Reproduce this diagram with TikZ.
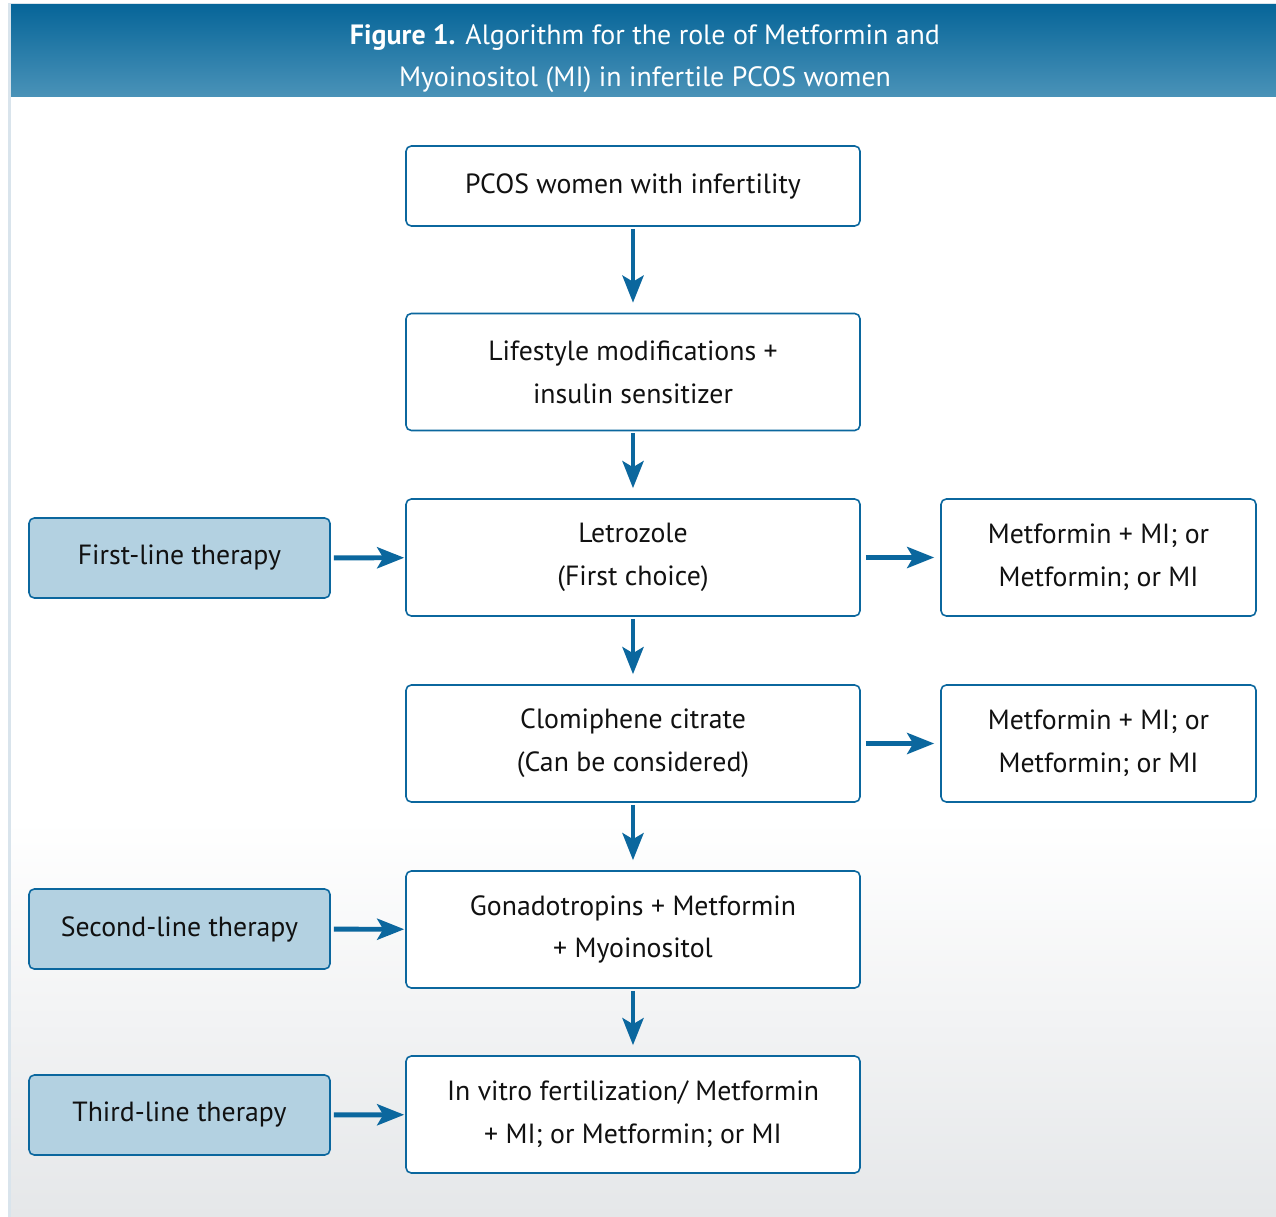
\documentclass[tikz,border=0pt]{standalone}
\usepackage{fontspec}
\setmainfont{PT Sans}
\usetikzlibrary{arrows.meta,positioning,calc}
\definecolor{ink}{HTML}{111111}
\definecolor{blue}{HTML}{0B679E}
\definecolor{lead}{HTML}{B3D1E1}
\definecolor{headtop}{HTML}{076599}
\definecolor{headbot}{HTML}{4A93B8}
\definecolor{frame}{HTML}{D9E4EC}
\definecolor{floor}{HTML}{E5E7E9}
\tikzset{
  every node/.style={font=\fontsize{15.8}{24.4}\selectfont,text=ink},
  box/.style={draw=blue,line width=0.9pt,rounded corners=3pt,fill=white,align=center,minimum width=9.08cm,minimum height=2.34cm},
  topbox/.style={box,minimum height=1.6cm},
  sidebox/.style={box,minimum width=6.3cm},
  leadbox/.style={box,fill=lead,minimum width=6.02cm,minimum height=1.6cm},
  arrow/.style={-{Stealth[length=0.54cm,width=0.42cm,inset=0.12cm]},line width=2.8pt,draw=blue},
  title/.style={font=\fontsize{15.9}{24.4}\selectfont,text=white},
}
\begin{document}
\begin{tikzpicture}

% ---------- frame and background ----------
\useasboundingbox (0,0) rectangle (25.52,-24.34);
\fill[frame] (0.16,-0.06) rectangle (25.52,-24.34);
\fill[white] (0.22,-1.9) rectangle (25.52,-16.4);
\shade[top color=white,bottom color=floor] (0.22,-16.4) rectangle (25.52,-24.34);
\shade[top color=headtop,bottom color=headbot] (0.22,-0.1) rectangle (25.52,-1.94);
\node[title] (t1) at (12.9,-0.76) {\textbf{Figure 1.} Algorithm for the role of Metformin and};
\node[title] (t2) at (12.9,-1.6) {Myoinositol (MI) in infertile PCOS women};

% ---------- main column ----------
\node[topbox] (pcos) at (12.66,-3.72) {PCOS women with infertility};
\node[box] (life) at (12.66,-7.44) {Lifestyle modifications +\\insulin sensitizer};
\node[box] (letro) at (12.66,-11.15) {Letrozole\\(First choice)};
\node[box] (clomi) at (12.66,-14.87) {Clomiphene citrate\\(Can be considered)};
\node[box] (gona) at (12.66,-18.59) {Gonadotropins + Metformin\\+ Myoinositol};
\node[box] (ivf) at (12.66,-22.29) {In vitro fertilization/ Metformin\\+ MI; or Metformin; or MI};

% ---------- therapy lines ----------
\node[leadbox] (first) at (3.59,-11.16) {First-line therapy};
\node[leadbox] (second) at (3.59,-18.58) {Second-line therapy};
\node[leadbox] (third) at (3.59,-22.3) {Third-line therapy};

% ---------- add-ons ----------
\node[sidebox] (add1) at (21.97,-11.15) {Metformin + MI; or\\Metformin; or MI};
\node[sidebox] (add2) at (21.97,-14.87) {Metformin + MI; or\\Metformin; or MI};

\foreach \a/\b in {pcos/life,life/letro,letro/clomi,clomi/gona,gona/ivf}
  {\draw[arrow,shorten <=0.04cm,shorten >=0.2cm] (\a) -- (\b);}
\foreach \a/\b in {first/letro,second/gona,third/ivf}
  {\draw[arrow,shorten <=0.06cm,shorten >=0.02cm] (\a) -- (\b);}
\foreach \a/\b in {letro/add1,clomi/add2}
  {\draw[arrow,shorten <=0.1cm,shorten >=0.12cm] (\a) -- (\b);}

\end{tikzpicture}
\end{document}
